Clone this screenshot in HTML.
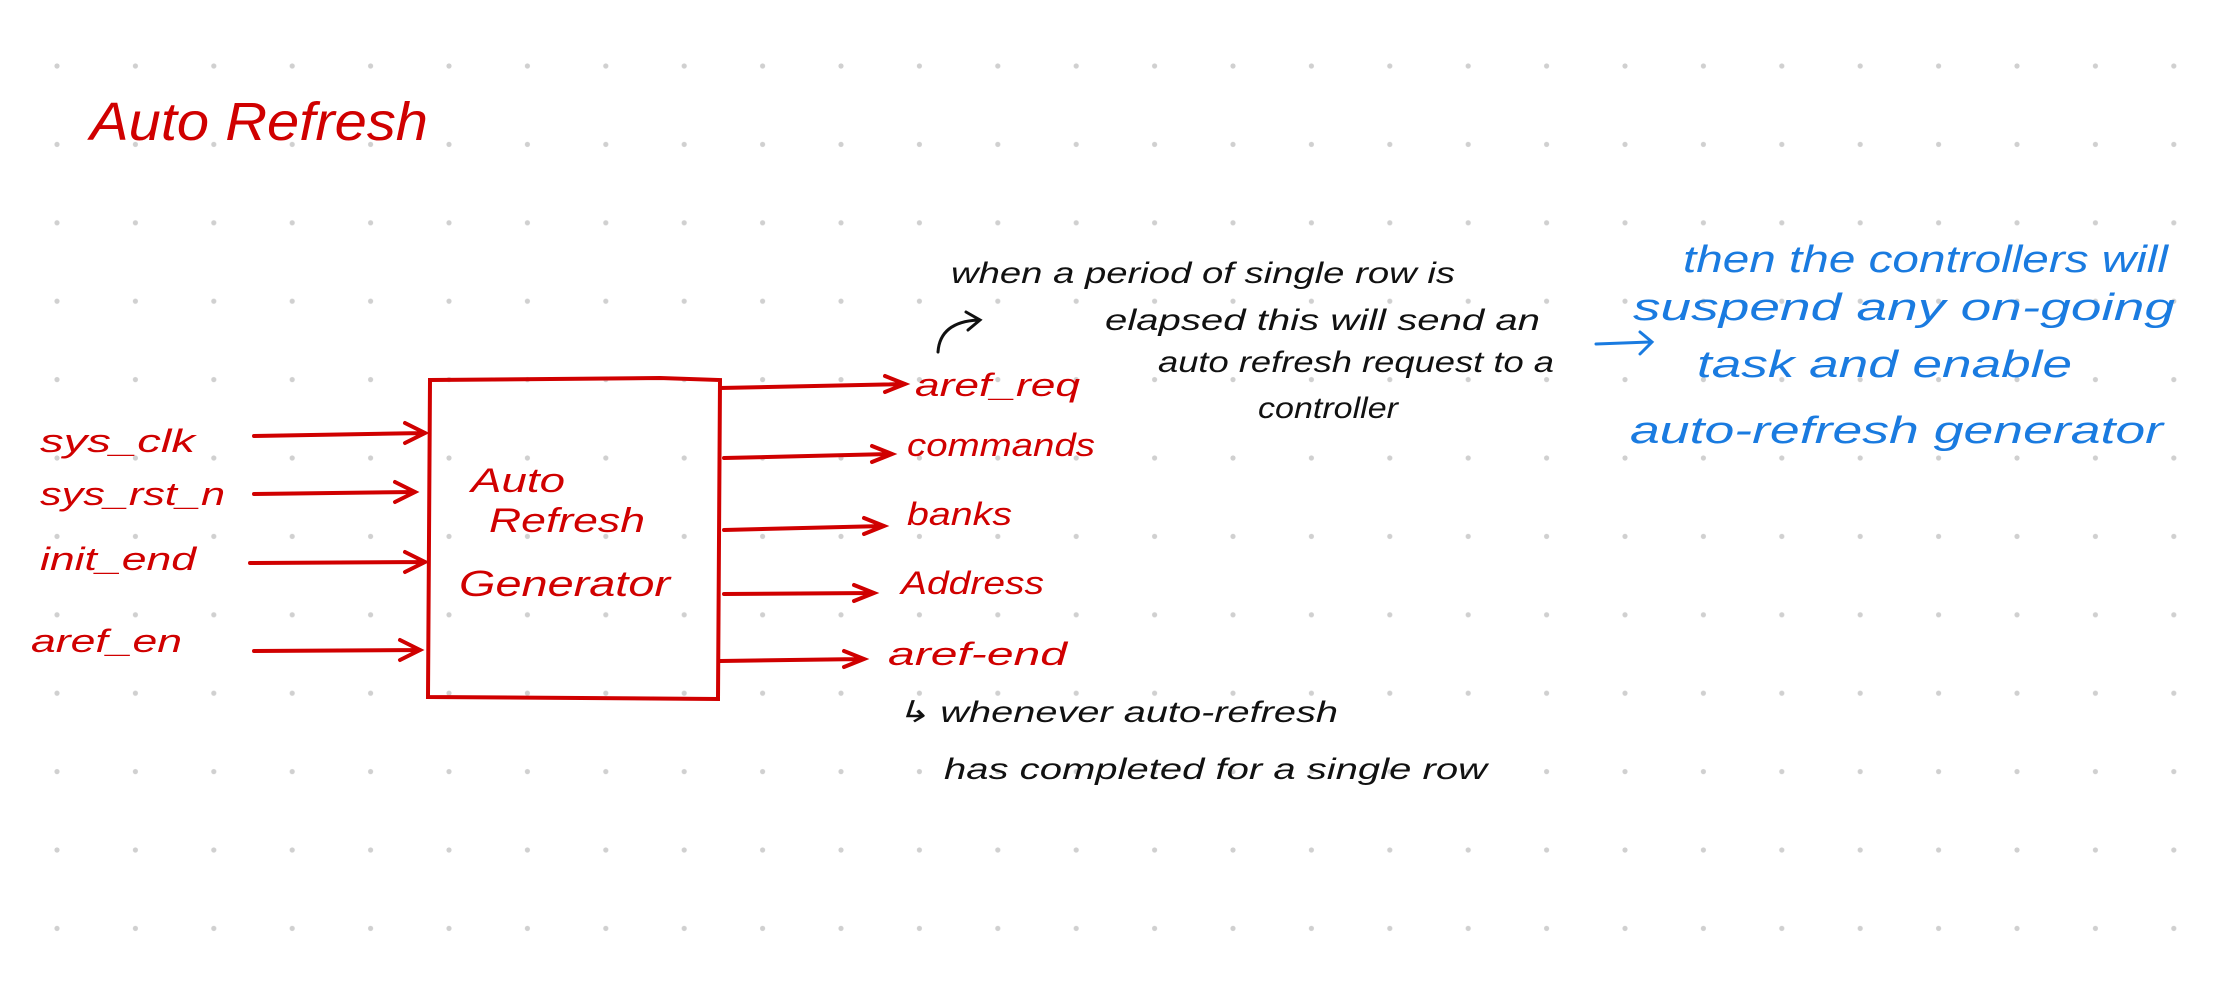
<!DOCTYPE html>
<html><head><style>
html,body{margin:0;padding:0;background:#fff;}
svg{display:block;}
text{font-family:"Liberation Sans",sans-serif;}
</style></head><body>
<svg width="2236" height="1000" viewBox="0 0 2236 1000" xmlns="http://www.w3.org/2000/svg">
<defs>
<pattern id="dots" x="57" y="66" width="78.4" height="78.4" patternUnits="userSpaceOnUse">
<circle cx="0" cy="0" r="2.6" fill="#d0d0d0"/><circle cx="78.4" cy="0" r="2.6" fill="#d0d0d0"/><circle cx="0" cy="78.4" r="2.6" fill="#d0d0d0"/><circle cx="78.4" cy="78.4" r="2.6" fill="#d0d0d0"/>
</pattern>
</defs>
<rect x="0" y="0" width="2236" height="1000" fill="url(#dots)"/>
<g fill="#d00000" font-style="italic" lengthAdjust="spacingAndGlyphs">
<text x="90" y="140" font-size="54" textLength="338" lengthAdjust="spacingAndGlyphs">Auto  Refresh</text>
</g>
<g stroke="#d00000" stroke-width="4" fill="none" stroke-linecap="round">
<path d="M430 380 L660 378 L720 380 L718 699 L428 697 Z"/>
<path d="M254 436 L425 433 M405 423 L425 433 L405 443"/>
<path d="M254 494 L415 492 M395 482 L415 492 L395 502"/>
<path d="M250 563 L425 562 M405 552 L425 562 L405 572"/>
<path d="M254 651 L420 650 M400 640 L420 650 L400 660"/>
<path d="M720 388 L905 384 M885 376 L905 384 L885 392"/>
<path d="M724 458 L892 454 M872 446 L892 454 L872 462"/>
<path d="M724 530 L884 526 M864 518 L884 526 L864 534"/>
<path d="M724 594 L874 593 M854 585 L874 593 L854 601"/>
<path d="M720 661 L864 659 M844 651 L864 659 L844 667"/>
</g>
<g fill="#d00000" font-size="32" font-style="italic">
<text x="40" y="452" textLength="155" lengthAdjust="spacingAndGlyphs">sys_clk</text>
<text x="40" y="505" textLength="185" lengthAdjust="spacingAndGlyphs">sys_rst_n</text>
<text x="40" y="570" textLength="156" lengthAdjust="spacingAndGlyphs">init_end</text>
<text x="31" y="652" textLength="151" lengthAdjust="spacingAndGlyphs">aref_en</text>
<text x="471" y="492" font-size="34" textLength="94" lengthAdjust="spacingAndGlyphs">Auto</text>
<text x="489" y="532" font-size="34" textLength="156" lengthAdjust="spacingAndGlyphs">Refresh</text>
<text x="459" y="596" font-size="36" textLength="211" lengthAdjust="spacingAndGlyphs">Generator</text>
<text x="915" y="396" textLength="165" lengthAdjust="spacingAndGlyphs">aref_req</text>
<text x="907" y="456" textLength="188" lengthAdjust="spacingAndGlyphs">commands</text>
<text x="907" y="525" textLength="105" lengthAdjust="spacingAndGlyphs">banks</text>
<text x="901" y="594" textLength="143" lengthAdjust="spacingAndGlyphs">Address</text>
<text x="888" y="665" textLength="179" lengthAdjust="spacingAndGlyphs">aref-end</text>
</g>
<g fill="#111" font-size="30" font-style="italic">
<text x="951" y="283" textLength="504" lengthAdjust="spacingAndGlyphs">when a period of single row is</text>
<text x="1105" y="330" textLength="435" lengthAdjust="spacingAndGlyphs">elapsed this will send an</text>
<text x="1158" y="372" textLength="396" lengthAdjust="spacingAndGlyphs">auto refresh request to a</text>
<text x="1258" y="418" textLength="140" lengthAdjust="spacingAndGlyphs">controller</text>
<text x="896" y="722" textLength="442" lengthAdjust="spacingAndGlyphs">↳ whenever auto-refresh</text>
<text x="944" y="779" textLength="543" lengthAdjust="spacingAndGlyphs">has completed for a single row</text>
</g>
<path d="M938 352 Q940 322 978 320 M966 312 L980 320 L968 330" stroke="#111" stroke-width="3" fill="none" stroke-linecap="round"/>
<path d="M1596 344 L1650 342 M1640 332 L1652 342 L1640 354" stroke="#1a7be0" stroke-width="3" fill="none" stroke-linecap="round"/>
<g fill="#1a7be0" font-size="38" font-style="italic">
<text x="1683" y="272" textLength="485" lengthAdjust="spacingAndGlyphs">then the controllers will</text>
<text x="1633" y="320" textLength="542" lengthAdjust="spacingAndGlyphs">suspend any on-going</text>
<text x="1697" y="377" textLength="375" lengthAdjust="spacingAndGlyphs">task and enable</text>
<text x="1630" y="443" textLength="533" lengthAdjust="spacingAndGlyphs">auto-refresh generator</text>
</g>
</svg>
</body></html>
